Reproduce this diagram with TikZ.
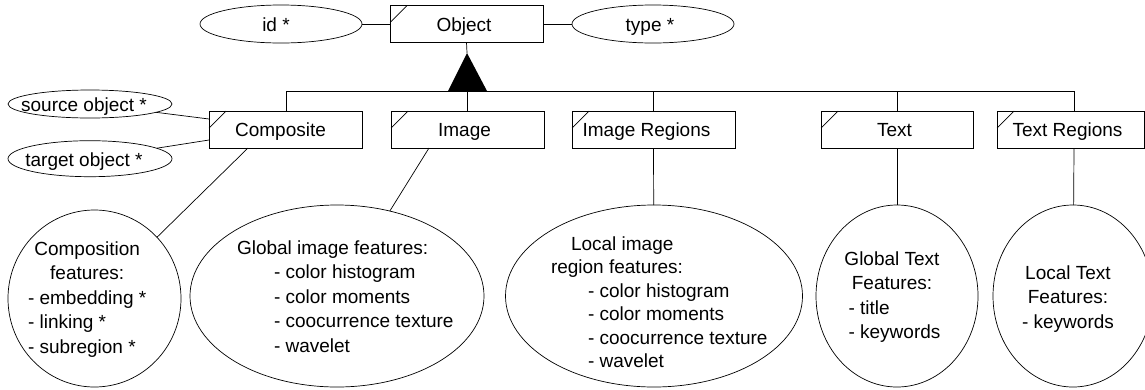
\documentclass[tikz,border=0pt]{standalone}
\usepackage{fontspec}
\setmainfont{Liberation Sans}
\usetikzlibrary{shapes.geometric}
\newcommand\diafont{\fontsize{19pt}{24.5pt}\selectfont}
\begin{document}
\begin{tikzpicture}[x=1pt,y=-1pt,
  every node/.style={inner sep=0pt,outer sep=0pt,font=\diafont},
  ln/.style={draw=black,line width=0.7pt},
  cls/.style={draw=black,line width=0.7pt,rectangle,minimum width=153pt,minimum height=37pt,text height=14pt,text depth=0pt},
  attr/.style={draw=black,line width=0.7pt,ellipse},
  lbl/.style={text height=14pt,text depth=0pt},
  feat/.style={align=left}
]
\useasboundingbox (0,0) rectangle (1145,389);

% top class and attributes
\node[cls] (obj) at (466.5,24) {\hspace*{-5pt}Object};
\node[attr,minimum width=162pt,minimum height=38pt] (id) at (281,24) {};
\node[lbl] (idt) at (276,24) {id *};
\node[attr,minimum width=162pt,minimum height=38pt] (type) at (653,24) {};
\node[lbl] (typet) at (650,24) {type *};
\draw[ln] (id) -- (obj);
\draw[ln] (obj) -- (type);

% generalization triangle and bus
\coordinate (apex) at (467,53);
\coordinate (tl) at (448,91);
\coordinate (tr) at (487,91);
\coordinate (busL) at (286,91);
\coordinate (busR) at (1074,91);
\draw[ln] (obj.south) -- (apex);
\fill[black] (apex) -- (tl) -- (tr) -- cycle;
\draw[ln] (busL) -- (busR);

% child classes
\node[cls] (comp) at (285.5,129.5) {\hspace*{-10pt}Composite};
\node[cls] (img) at (467.5,129.5) {\hspace*{-6pt}Image};
\node[cls,minimum width=163pt] (imr) at (653.5,129.5) {\hspace*{-14pt}Image Regions};
\node[cls,minimum width=152pt] (txt) at (897,129.5) {\hspace*{-5pt}Text};
\node[cls,minimum width=147pt] (txr) at (1070.5,129.5) {\hspace*{-6pt}Text Regions};
\foreach \n in {obj,comp,img,imr,txt,txr}{
  \draw[ln] ([xshift=17pt]\n.north west) -- ([yshift=-17pt]\n.north west);
}
\draw[ln] (busL) -- (busL |- comp.north);
\draw[ln] (img.north |- busL) -- (img.north);
\draw[ln] (imr.north |- busL) -- (imr.north);
\draw[ln] (txt.north |- busL) -- (txt.north);
\draw[ln] (busR) -- (busR |- txr.north);

% composite attributes
\node[attr,minimum width=164pt,minimum height=28pt] (src) at (90,104) {};
\node[lbl] (srct) at (84,104) {source object *};
\node[attr,minimum width=164pt,minimum height=36pt] (tgt) at (90,158.7) {};
\node[lbl] (tgtt) at (84,159) {target object *};
\draw[ln] (src) -- ([yshift=10.5pt]comp.west);
\draw[ln] (tgt) -- ([yshift=-10.5pt]comp.west);

% feature ellipses
\node[attr,minimum width=173pt,minimum height=177pt] (compf) at (94.5,298.5) {};
\node[attr,minimum width=294pt,minimum height=182pt] (gif) at (337,296) {};
\node[attr,minimum width=297pt,minimum height=182pt] (lif) at (654,296) {};
\node[attr,minimum width=162pt,minimum height=182pt] (gtf) at (897,296) {};
\node[attr,minimum width=160pt,minimum height=182pt] (ltf) at (1073,296) {};

\draw[ln] ([xshift=-37.5pt]comp.south) -- (compf);
\draw[ln] ([xshift=-38.5pt]img.south) -- (gif);
\draw[ln] (imr.south) -- (lif);
\draw[ln] (txt.south) -- (gtf);
\draw[ln] (busR |- txr.south) -- (ltf);

% feature texts
\node[anchor=base west] (compft) at (28,255) {\begin{tabular}[t]{@{}l@{}}
\multicolumn{1}{@{}c@{}}{Composition}\\
\multicolumn{1}{@{}c@{}}{features:}\\
- embedding *\\
- linking *\\
- subregion *\end{tabular}};
\node[anchor=base west] (gift) at (274,254) {\begin{tabular}[t]{@{}l@{}}
\hspace*{-37pt}Global image features:\\
- color histogram\\
- color moments\\
- coocurrence texture\\
- wavelet\end{tabular}};
\node[anchor=base west] (lift) at (588,250) {\begin{tabular}[t]{@{}l@{}}
\hspace*{-17pt}Local image\\[-1pt]
\hspace*{-37pt}region features:\\[-1pt]
- color histogram\\[-1pt]
- color moments\\[-1pt]
- coocurrence texture\\[-1pt]
- wavelet\end{tabular}};
\node[anchor=base] (gtft) at (892,265) {\begin{tabular}[t]{@{}l@{}}
\multicolumn{1}{@{}c@{}}{Global Text}\\
\multicolumn{1}{@{}c@{}}{Features:}\\
\hspace*{5pt}- title\\
\hspace*{5pt}- keywords\end{tabular}};
\node[anchor=base] (ltft) at (1068,279) {\begin{tabular}[t]{@{}c@{}}
Local Text\\
Features:\\
- keywords\end{tabular}};
\end{tikzpicture}
\end{document}
